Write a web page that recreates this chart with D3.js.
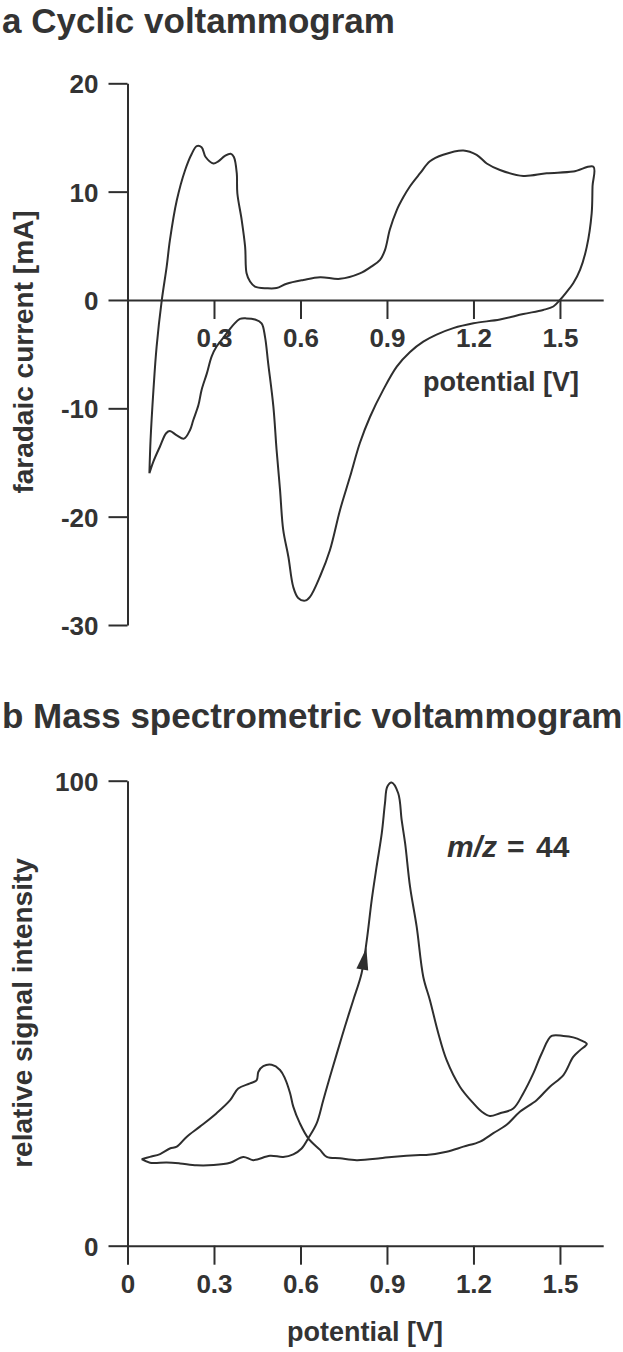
<!DOCTYPE html>
<html>
<head>
<meta charset="utf-8">
<script src="https://cdn.jsdelivr.net/npm/d3@7"></script>
<style>
  html, body { margin: 0; padding: 0; background: #fff; }
  svg { display: block; }
  text { font-family: "Liberation Sans", Arial, Helvetica, sans-serif; fill: #333; font-weight: bold; }
</style>
</head>
<body>
<svg id="chart" width="623" height="1352"></svg>
<script>
// ---------- data ----------
// (a) cyclic voltammogram: anodic sweep (from low-potential tip up to 1.6 V)
const cvAnodicPotential = [0.076, 0.080, 0.090, 0.101, 0.119, 0.136, 0.147, 0.171, 0.200, 0.223, 0.240, 0.257, 0.271, 0.298, 0.315, 0.338, 0.358, 0.369, 0.379, 0.381, 0.396, 0.408, 0.413, 0.425, 0.442, 0.483, 0.517, 0.552, 0.610, 0.668, 0.737, 0.806, 0.847, 0.876, 0.893, 0.910, 0.934, 0.957, 0.980, 1.015, 1.049, 1.095, 1.165, 1.211, 1.246, 1.292, 1.373, 1.454, 1.546, 1.616];
const cvAnodicCurrent   = [-16.0, -12.9, -8.3, -4.3, 0.0, 3.1, 5.5, 9.2, 12.0, 13.5, 14.2, 14.1, 13.2, 12.6, 12.8, 13.3, 13.5, 13.2, 11.7, 9.85, 7.4, 4.9, 2.46, 1.7, 1.23, 1.08, 1.1, 1.5, 1.85, 2.1, 1.95, 2.45, 3.1, 3.7, 4.6, 6.5, 8.3, 9.5, 10.5, 11.7, 12.8, 13.4, 13.8, 13.4, 12.6, 12.0, 11.45, 11.7, 11.85, 12.3];
// cathodic sweep (from 1.6 V back to the tip)
const cvCathodicPotential = [1.616, 1.613, 1.610, 1.593, 1.570, 1.546, 1.522, 1.500, 1.477, 1.442, 1.373, 1.292, 1.200, 1.130, 1.072, 1.026, 0.980, 0.934, 0.887, 0.841, 0.806, 0.772, 0.737, 0.702, 0.668, 0.633, 0.616, 0.592, 0.575, 0.558, 0.540, 0.529, 0.517, 0.506, 0.488, 0.477, 0.465, 0.442, 0.413, 0.390, 0.367, 0.332, 0.309, 0.292, 0.275, 0.257, 0.246, 0.228, 0.217, 0.196, 0.171, 0.147, 0.134, 0.113, 0.090, 0.076];
const cvCathodicCurrent   = [12.3, 10.5, 8.0, 4.9, 2.8, 1.54, 0.7, 0.0, -0.6, -0.92, -1.3, -1.8, -2.15, -2.6, -3.2, -3.85, -4.8, -6.15, -8.3, -10.8, -13.2, -16.3, -19.4, -23.1, -25.5, -27.4, -27.75, -27.5, -26.5, -23.7, -21.2, -17.5, -13.8, -9.85, -5.85, -3.4, -2.15, -1.8, -1.7, -1.75, -2.3, -3.5, -4.3, -5.2, -6.8, -8.3, -9.7, -11.1, -12.0, -12.8, -12.5, -12.1, -12.3, -13.5, -14.9, -16.0];

// (b) mass spectrometric voltammogram, m/z = 44
const msForwardPotential = [0.049, 0.078, 0.136, 0.182, 0.240, 0.298, 0.356, 0.402, 0.436, 0.494, 0.540, 0.575, 0.604, 0.627, 0.656, 0.679, 0.702, 0.726, 0.754, 0.783, 0.812, 0.830, 0.847, 0.864, 0.882, 0.893, 0.901, 0.916, 0.939, 0.951, 0.963, 0.980, 1.003, 1.026, 1.049, 1.078, 1.107, 1.153, 1.200, 1.229, 1.257, 1.292, 1.338, 1.373, 1.408, 1.437, 1.471, 1.512, 1.546, 1.575, 1.593];
const msForwardSignal    = [18.6, 17.85, 17.9, 17.7, 17.3, 17.35, 17.85, 19.1, 18.4, 19.35, 19.1, 19.65, 20.9, 23.1, 26.3, 31.3, 36.3, 41.3, 47.1, 52.8, 58.6, 65.7, 74.3, 81.5, 88.7, 95.1, 98.7, 99.6, 97.3, 91.5, 86.5, 77.2, 68.6, 57.8, 52.8, 45.7, 39.9, 34.2, 30.6, 28.8, 27.9, 28.5, 29.5, 32.8, 37.1, 41.4, 45.1, 45.1, 44.8, 44.1, 43.4];
const msReversePotential = [1.593, 1.569, 1.546, 1.512, 1.465, 1.419, 1.361, 1.315, 1.269, 1.223, 1.165, 1.107, 1.036, 1.015, 0.916, 0.876, 0.795, 0.737, 0.691, 0.668, 0.627, 0.598, 0.575, 0.564, 0.546, 0.529, 0.500, 0.471, 0.454, 0.448, 0.425, 0.384, 0.356, 0.309, 0.251, 0.205, 0.171, 0.147, 0.113, 0.078, 0.049];
const msReverseSignal    = [43.4, 42.0, 40.6, 36.7, 34.2, 31.3, 28.8, 26.0, 24.2, 22.4, 21.3, 20.2, 19.5, 19.5, 19.1, 18.8, 18.4, 18.8, 19.1, 20.6, 23.1, 26.3, 29.9, 32.8, 36.0, 37.8, 38.9, 38.6, 37.4, 35.6, 34.9, 33.8, 31.3, 28.5, 25.6, 23.4, 21.3, 20.9, 19.7, 19.1, 18.6];
// scan-direction arrow (tail -> head) on the forward sweep
const arrowPotential = [0.812, 0.826];
const arrowSignal    = [58.6, 63.2];

// axis ticks
const cvCurrentTicks = [20, 10, 0, -10, -20, -30];
const cvPotentialTicks = [0.3, 0.6, 0.9, 1.2, 1.5];
const msSignalTicks = [0, 100];
const msPotentialTicks = [0, 0.3, 0.6, 0.9, 1.2, 1.5];

// ---------- drawing ----------
const ink = "#2e2e2e";
const svg = d3.select("#chart");

const x = d3.scaleLinear().domain([0, 1.65]).range([127.5, 603.2]);
const yA = d3.scaleLinear().domain([-30, 20]).range([625, 83.3]);
const yB = d3.scaleLinear().domain([0, 100]).range([1245.7, 780.7]);

const fmtPot = d => d === 0 ? "0" : d3.format(".1f")(d);
const fmtInt = d => String(d);   // plain hyphen-minus like the original

function styleAxis(g, fs) {
  g.select(".domain").attr("stroke", ink).attr("stroke-width", 2);
  g.selectAll(".tick line").attr("stroke", ink).attr("stroke-width", 2);
  g.selectAll(".tick text").attr("fill", "#333").attr("font-size", fs)
    .attr("font-weight", "bold").attr("font-family", '"Liberation Sans", Arial, sans-serif');
}

// titles
svg.append("text").attr("x", 2).attr("y", 33).attr("font-size", 35).text("a Cyclic voltammogram");
svg.append("text").attr("x", 2).attr("y", 728).attr("font-size", 35).text("b Mass spectrometric voltammogram");

// ----- chart a -----
const gA = svg.append("g");
gA.append("g").attr("transform", `translate(${x(0)},0)`)
  .call(d3.axisLeft(yA).tickValues(cvCurrentTicks).tickSize(19).tickPadding(10).tickSizeOuter(0)
        .tickFormat(fmtInt))
  .call(g => styleAxis(g, 26))
  .call(g => g.selectAll(".tick text").attr("dy", "0.36em"));
gA.append("g").attr("transform", `translate(0,${yA(0)})`)
  .call(d3.axisBottom(x).tickValues(cvPotentialTicks).tickSize(19).tickPadding(9.5).tickSizeOuter(0)
        .tickFormat(fmtPot))
  .call(g => styleAxis(g, 26));

const cvPts = cvAnodicPotential.map((v, i) => [v, cvAnodicCurrent[i]])
  .concat(cvCathodicPotential.slice(1).map((v, i) => [v, cvCathodicCurrent[i + 1]]));
gA.append("path")
  .attr("d", d3.line().x(d => x(d[0])).y(d => yA(d[1])).curve(d3.curveCatmullRom.alpha(0.5))(cvPts))
  .attr("fill", "none").attr("stroke", ink).attr("stroke-width", 2).attr("stroke-linejoin", "round");

gA.append("text").attr("x", 423).attr("y", 391).attr("font-size", 27).text("potential [V]");
gA.append("text").attr("transform", "translate(33,352) rotate(-90)").attr("text-anchor", "middle")
  .attr("font-size", 28).text("faradaic current [mA]");

// ----- chart b -----
const gB = svg.append("g");
gB.append("g").attr("transform", `translate(${x(0)},0)`)
  .call(d3.axisLeft(yB).tickValues(msSignalTicks).tickSize(19).tickPadding(10).tickSizeOuter(0)
        .tickFormat(fmtInt))
  .call(g => styleAxis(g, 26))
  .call(g => g.selectAll(".tick text").attr("dy", "0.36em"));
gB.append("g").attr("transform", `translate(0,${yB(0)})`)
  .call(d3.axisBottom(x).tickValues(msPotentialTicks).tickSize(19).tickPadding(9.5).tickSizeOuter(0)
        .tickFormat(fmtPot))
  .call(g => styleAxis(g, 26));

const msPts = msForwardPotential.map((v, i) => [v, msForwardSignal[i]])
  .concat(msReversePotential.slice(1).map((v, i) => [v, msReverseSignal[i + 1]]));
gB.append("path")
  .attr("d", d3.line().x(d => x(d[0])).y(d => yB(d[1])).curve(d3.curveCatmullRom.alpha(0.5))(msPts))
  .attr("fill", "none").attr("stroke", ink).attr("stroke-width", 2).attr("stroke-linejoin", "round");

// arrow head from data direction
{
  const x0 = x(arrowPotential[0]), y0 = yB(arrowSignal[0]);
  const x1 = x(arrowPotential[1]), y1 = yB(arrowSignal[1]);
  const ang = Math.atan2(y1 - y0, x1 - x0);
  const len = 22, hw = 6;
  const tipX = x1 + Math.cos(ang) * 4, tipY = y1 + Math.sin(ang) * 4;
  const bx = tipX - Math.cos(ang) * len, by = tipY - Math.sin(ang) * len;
  const px = -Math.sin(ang) * hw, py = Math.cos(ang) * hw;
  gB.append("path")
    .attr("d", `M${tipX},${tipY}L${bx + px},${by + py}L${bx - px},${by - py}Z`)
    .attr("fill", ink);
}

const mz = gB.append("text").attr("y", 857).attr("font-size", 30);
mz.append("tspan").attr("x", 447).attr("font-style", "italic").text("m/z");
mz.append("tspan").attr("x", 507).text("=");
mz.append("tspan").attr("x", 536).text("44");

gB.append("text").attr("x", 365).attr("y", 1341).attr("text-anchor", "middle").attr("font-size", 27).text("potential [V]");
gB.append("text").attr("transform", "translate(32,1013) rotate(-90)").attr("text-anchor", "middle")
  .attr("font-size", 28).text("relative signal intensity");
</script>
</body>
</html>
